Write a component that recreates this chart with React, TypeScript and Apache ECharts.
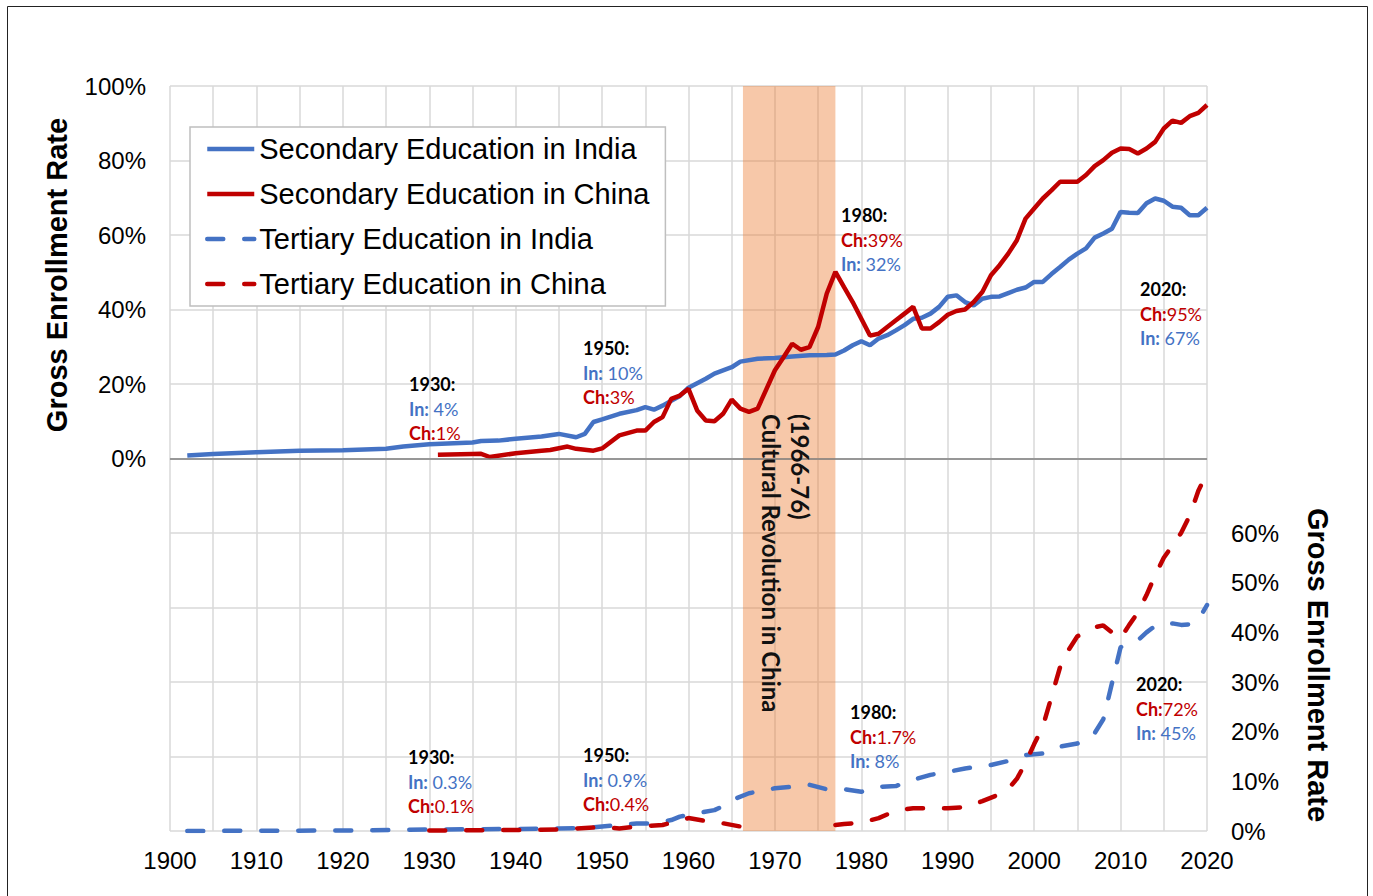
import React, { useEffect, useRef } from "react";
import * as echarts from "echarts";

// ---------- DATA ----------
const legendNames = [
  "Secondary Education in India",
  "Secondary Education in China",
  "Tertiary Education in India",
  "Tertiary Education in China",
];

// Secondary (left axis), [year, %]
const indiaSecondary: [number, number][] = [
  [1902, 0.8], [1905, 1.2], [1910, 1.7], [1915, 2.1], [1920, 2.2], [1925, 2.6], [1927, 3.2],
  [1930, 3.8], [1935, 4.3], [1936, 4.7], [1938, 4.8], [1940, 5.3], [1943, 5.9], [1945, 6.6],
  [1947, 5.7], [1948, 6.6], [1949, 9.8], [1950, 10.5], [1952, 12], [1954, 13], [1955, 13.8],
  [1956, 13.1], [1957, 14.2], [1959, 16.8], [1960, 19], [1962, 21.4], [1963, 22.8], [1965, 24.5],
  [1966, 26], [1968, 26.8], [1970, 27], [1972, 27.4], [1974, 27.7], [1976, 27.8], [1977, 27.9],
  [1978, 29], [1979, 30.4], [1980, 31.5], [1981, 30.4], [1982, 32.2], [1983, 33.1], [1984, 34.4],
  [1985, 35.8], [1986, 37.5], [1987, 37.8], [1988, 38.9], [1989, 40.7], [1990, 43.4], [1991, 43.8],
  [1992, 42], [1993, 41.1], [1994, 42.9], [1995, 43.4], [1996, 43.5], [1997, 44.4], [1998, 45.3],
  [1999, 45.9], [2000, 47.4], [2001, 47.4], [2002, 49.5], [2003, 51.4], [2004, 53.4], [2005, 55],
  [2006, 56.4], [2007, 59.3], [2008, 60.4], [2009, 61.7], [2010, 66.2], [2011, 66], [2012, 65.9],
  [2013, 68.5], [2014, 69.8], [2015, 69.2], [2016, 67.6], [2017, 67.3], [2018, 65.3], [2019, 65.3],
  [2020, 67.3],
];

const chinaSecondary: [number, number][] = [
  [1931, 1.0], [1935, 1.2], [1936, 1.25], [1937, 0.4], [1940, 1.4], [1943, 2.1], [1944, 2.3],
  [1946, 3.2], [1947, 2.6], [1949, 2.1], [1950, 2.7], [1952, 6.2], [1954, 7.5], [1955, 7.5],
  [1956, 9.8], [1957, 11.1], [1958, 16], [1959, 16.9], [1960, 18.7], [1961, 12.9], [1962, 10.2],
  [1963, 10], [1964, 12], [1965, 15.8], [1966, 13.4], [1967, 12.5], [1968, 13.4], [1970, 23.7],
  [1971, 27.2], [1972, 30.8], [1973, 29.2], [1974, 29.9], [1975, 35.3], [1976, 44.3], [1977, 50.1],
  [1978, 46], [1979, 42], [1980, 37.5], [1981, 33], [1982, 33.5], [1983, 35.3], [1984, 37.1],
  [1985, 38.9], [1986, 40.7], [1987, 34.9], [1988, 34.9], [1989, 36.6], [1990, 38.6], [1991, 39.6],
  [1992, 40], [1993, 42], [1994, 44.7], [1995, 49.2], [1996, 51.9], [1997, 55], [1998, 58.6],
  [1999, 64.4], [2000, 67.1], [2001, 69.8], [2002, 72], [2003, 74.3], [2004, 74.3], [2005, 74.3],
  [2006, 76.1], [2007, 78.5], [2008, 80.1], [2009, 82.1], [2010, 83.2], [2011, 83.1], [2012, 81.9],
  [2013, 83.2], [2014, 85], [2015, 88.6], [2016, 90.7], [2017, 90.1], [2018, 91.9], [2019, 92.8],
  [2020, 94.9],
];

// Tertiary (right axis), [year, %]
const indiaTertiary: [number, number][] = [
  [1902, 0], [1910, 0.05], [1920, 0.1], [1930, 0.3], [1940, 0.4], [1945, 0.5], [1948, 0.6],
  [1950, 0.9], [1952, 1.2], [1954, 1.5], [1956, 1.55], [1958, 2.2], [1959, 2.9], [1961, 3.6],
  [1963, 4.2], [1964, 5], [1965, 6.2], [1967, 7.6], [1970, 8.6], [1972, 8.9], [1974, 9.3],
  [1976, 8.4], [1978, 8.4], [1980, 7.9], [1982, 8.9], [1984, 9.05], [1986, 10.3], [1988, 11.3],
  [1990, 11.9], [1992, 12.6], [1995, 13.3], [1997, 14.1], [1999, 15.3], [2001, 15.6], [2003, 17],
  [2005, 17.6], [2007, 19.7], [2008, 22.5], [2010, 37], [2011, 37.6], [2012, 38.4], [2013, 40],
  [2014, 41.3], [2015, 41.8], [2016, 41.8], [2017, 41.5], [2018, 41.6], [2019, 42.5], [2020, 45.5],
];

const chinaTertiary: [number, number | string][] = [
  [1930, 0.1], [1940, 0.2], [1945, 0.3], [1947, 0.5], [1949, 0.7], [1950, 0.8], [1952, 0.5],
  [1954, 0.9], [1957, 1.2], [1960, 2.6], [1962, 2], [1964, 1.55], [1966, 0.9], [1971, "-"],
  [1977, 1.2], [1978, 1.4], [1980, 1.7], [1982, 2.6], [1984, 4.1], [1986, 4.6], [1988, 4.6],
  [1990, 4.6], [1992, 4.8], [1994, 6], [1996, 7.4], [1997, 8.5], [1998, 10.5], [1999, 13.7],
  [2000, 17.5], [2001, 21], [2002, 27], [2003, 33], [2004, 36.5], [2005, 39.2], [2006, 40],
  [2007, 41], [2008, 41.4], [2009, 40], [2010, 38.8], [2011, 41.5], [2012, 44], [2013, 47.5],
  [2014, 51.5], [2015, 55], [2016, 57.5], [2017, 60], [2018, 63.5], [2019, 68.5], [2020, 72],
];

const culturalRevolution = [1966.3, 1977];
const bandLabel = "(1966-76)\nCultural Revolution in China";

// annotation texts: [year label, first country, first value, second country, second value]
const annotationTexts: [string, string, string, string, string][] = [
  ["1930:", "In:", " 4%", "Ch:", "1%"],
  ["1950:", "In:", " 10%", "Ch:", "3%"],
  ["1980:", "Ch:", "39%", "In:", " 32%"],
  ["2020:", "Ch:", "95%", "In:", " 67%"],
  ["1930:", "In:", " 0.3%", "Ch:", "0.1%"],
  ["1950:", "In:", " 0.9%", "Ch:", "0.4%"],
  ["1980:", "Ch:", "1.7%", "In:", " 8%"],
  ["2020:", "Ch:", "72%", "In:", " 45%"],
];

// ---------- LAYOUT / STYLE ----------
const W = 1373;
const H = 896;
const BLUE = "#4472C4";
const RED = "#C00000";
const ARIAL = '"Liberation Sans", Arial, sans-serif';
const CAL = 'Lato, "Noto Sans", sans-serif';
const annotationPos: [number, number][] = [
  [409, 384], [583, 348], [841, 215], [1140, 289],
  [408, 757], [583, 755], [850, 712], [1136, 684],
];

export default function App() {
  const ref = useRef<HTMLDivElement>(null);
  useEffect(() => {
    if (!ref.current) return;
    const chart = echarts.init(ref.current, undefined, { renderer: "svg" });

    const annGraphics: any[] = [];
    annotationTexts.forEach((t, i) => {
      const [x, y] = annotationPos[i];
      const colorOf = (c: string) => (c.startsWith("In") ? BLUE : RED);
      annGraphics.push({
        type: "text",
        x,
        y,
        z: 100,
        style: {
          text: t[0],
          fontFamily: CAL,
          fontSize: 18,
          fontWeight: "bold",
          fill: "#000",
          verticalAlign: "middle",
          align: "left",
        },
      });
      [[t[1], t[2]], [t[3], t[4]]].forEach((pair, k) => {
        const c = colorOf(pair[0]);
        annGraphics.push({
          type: "text",
          x,
          y: y + 24.5 * (k + 1),
          z: 100,
          style: {
            text: `{b|${pair[0]}}{r|${pair[1]}}`,
            verticalAlign: "middle",
            align: "left",
            rich: {
              b: { fontFamily: CAL, fontSize: 18, fontWeight: "bold", fill: c, color: c },
              r: { fontFamily: CAL, fontSize: 18, fontWeight: "normal", fill: c, color: c },
            },
          },
        });
      });
    });

    const gridLine = { color: "#d9d9d9", width: 1.5 };
    const axisLabel = { fontFamily: ARIAL, fontSize: 24, color: "#000" };
    const LW = 4.5;
    const dash = { type: [16, 21] as any, cap: "round" as any, width: LW };

    chart.setOption({
      animation: false,
      backgroundColor: "#fff",
      grid: { left: 170, right: W - 1207, top: 86, bottom: H - 831, containLabel: false },
      legend: {
        data: legendNames,
        orient: "vertical",
        left: 190,
        top: 127,
        padding: [7, 16, 7, 15],
        itemWidth: 47,
        itemHeight: 14,
        itemGap: 15,
        backgroundColor: "#fff",
        borderColor: "#bfbfbf",
        borderWidth: 1.5,
        selectedMode: false,
        itemStyle: { color: "transparent", borderWidth: 0, opacity: 0 },
        lineStyle: { width: LW },
        textStyle: { fontFamily: ARIAL, fontSize: 29, color: "#000", lineHeight: 30 },
      },
      xAxis: {
        type: "value",
        min: 1900,
        max: 2020,
        interval: 5,
        axisLine: { show: true, lineStyle: { color: "#d9d9d9", width: 1.5 } },
        axisTick: { show: false },
        axisLabel: {
          ...axisLabel,
          margin: 17,
          formatter: (v: number) => (v % 10 === 0 ? String(v) : ""),
        },
        splitLine: { show: true, lineStyle: gridLine },
      },
      yAxis: [
        {
          type: "value",
          min: -100,
          max: 100,
          interval: 20,
          position: "left",
          axisLine: { show: false },
          axisTick: { show: false },
          axisLabel: {
            ...axisLabel,
            margin: 24,
            formatter: (v: number) => (v >= 0 ? `${v}%` : ""),
          },
          splitLine: { show: true, lineStyle: gridLine },
        },
        {
          type: "value",
          min: 0,
          max: 150,
          interval: 10,
          position: "right",
          axisLine: { show: false },
          axisTick: { show: false },
          axisLabel: {
            ...axisLabel,
            margin: 24,
            formatter: (v: number) => (v <= 60 ? `${v}%` : ""),
          },
          splitLine: { show: false },
        },
      ],
      series: [
        {
          name: "zero",
          type: "line",
          data: [],
          z: 1,
          markLine: {
            silent: true,
            symbol: ["none", "none"],
            label: { show: false },
            lineStyle: { color: "#808080", width: 1.5, type: "solid" },
            data: [{ yAxis: 0 }],
          },
        },
        {
          name: legendNames[0],
          type: "line",
          yAxisIndex: 0,
          data: indiaSecondary,
          symbol: "none",
          z: 3,
          color: BLUE,
          lineStyle: { color: BLUE, width: LW },
        },
        {
          name: legendNames[1],
          type: "line",
          yAxisIndex: 0,
          data: chinaSecondary,
          symbol: "none",
          z: 4,
          color: RED,
          lineStyle: { color: RED, width: LW },
        },
        {
          name: legendNames[2],
          type: "line",
          yAxisIndex: 1,
          data: indiaTertiary,
          symbol: "none",
          z: 3,
          color: BLUE,
          lineStyle: { ...dash, color: BLUE },
        },
        {
          name: legendNames[3],
          type: "line",
          yAxisIndex: 1,
          data: chinaTertiary,
          symbol: "none",
          connectNulls: false,
          z: 4,
          color: RED,
          lineStyle: { ...dash, color: RED },
        },
        {
          name: "band",
          type: "line",
          data: [],
          z: 10,
          markArea: {
            silent: true,
            itemStyle: { color: "rgba(237,125,49,0.42)" },
            data: [[{ xAxis: culturalRevolution[0] }, { xAxis: culturalRevolution[1] }]],
          },
        },
      ],
      graphic: [
        {
          type: "rect",
          z: 200,
          shape: { x: 7.5, y: 6.5, width: 1360, height: 1000 },
          style: { fill: "none", stroke: "#222", lineWidth: 1 },
        },
        {
          type: "text",
          x: 57,
          y: 275,
          rotation: Math.PI / 2,
          z: 100,
          style: {
            text: "Gross Enrollment Rate",
            fontFamily: ARIAL,
            fontSize: 29,
            fontWeight: "bold",
            fill: "#000",
            align: "center",
            verticalAlign: "middle",
          },
        },
        {
          type: "text",
          x: 1318,
          y: 665,
          rotation: -Math.PI / 2,
          z: 100,
          style: {
            text: "Gross Enrollment Rate",
            fontFamily: ARIAL,
            fontSize: 29,
            fontWeight: "bold",
            fill: "#000",
            align: "center",
            verticalAlign: "middle",
          },
        },
        {
          type: "text",
          x: 786,
          y: 414,
          rotation: -Math.PI / 2,
          z: 100,
          style: {
            text: bandLabel,
            fontFamily: CAL,
            fontSize: 24,
            fontWeight: "bold",
            lineHeight: 29,
            fill: "#111",
            align: "left",
            verticalAlign: "middle",
          },
        },
        ...annGraphics,
      ],
    });
    return () => chart.dispose();
  }, []);
  return (
    <div
      ref={ref}
      style={{ position: "absolute", left: 0, top: 0, width: W, height: H, background: "#fff" }}
    />
  );
}
